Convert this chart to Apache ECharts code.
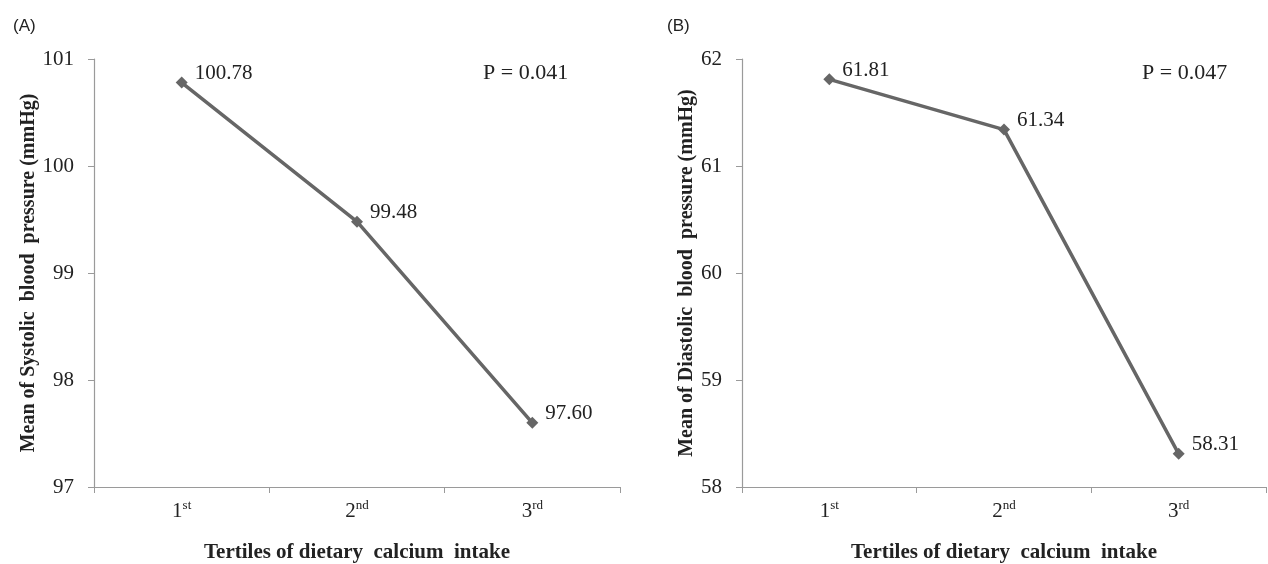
<!DOCTYPE html>
<html>
<head>
<meta charset="utf-8">
<script src="https://cdn.jsdelivr.net/npm/echarts@6/dist/echarts.min.js"></script>
<style>
  html, body { margin: 0; padding: 0; background: #fff; }
  #chart { width: 1268px; height: 564px; }
</style>
</head>
<body>
<div id="chart"></div>
<script>
// ---- data ----
const categories = ['1st', '2nd', '3rd'];
const systolic = [100.78, 99.48, 97.60];
const diastolic = [61.81, 61.34, 58.31];
const systolicLabels = ['100.78', '99.48', '97.60'];
const diastolicLabels = ['61.81', '61.34', '58.31'];
const panelTags = ['(A)', '(B)'];
const pValues = ['P = 0.041', 'P = 0.047'];
const yNames = ['Mean of Systolic  blood  pressure (mmHg)', 'Mean of Diastolic  blood  pressure (mmHg)'];
const xName = 'Tertiles of dietary  calcium  intake';
const yRangeA = [97, 101];
const yRangeB = [58, 62];

const serif = '"Liberation Serif", "Times New Roman", serif';
const sans = '"Liberation Sans", Arial, sans-serif';
const lineColor = '#666666';
const axisColor = '#9a9a9a';
const textColor = '#222222';

const chart = echarts.init(document.getElementById('chart'), null, { renderer: 'canvas' });

function catFormatter(v) {
  const m = v.match(/^(\d+)(\D+)$/);
  return m ? '{n|' + m[1] + '}{s|' + m[2] + '}' : v;
}

function xAxis(gridIndex) {
  return {
    type: 'category',
    gridIndex: gridIndex,
    data: categories,
    boundaryGap: true,
    axisLine: { lineStyle: { color: axisColor, width: 1.2 } },
    axisTick: { show: true, length: 6, inside: false, lineStyle: { color: axisColor } },
    axisLabel: {
      margin: 12,
      formatter: catFormatter,
      rich: {
        n: { fontFamily: serif, fontSize: 21, color: textColor, lineHeight: 24 },
        s: { fontFamily: serif, fontSize: 13, color: textColor, verticalAlign: 'top', lineHeight: 14 }
      }
    },
    name: xName,
    nameLocation: 'middle',
    nameGap: 55,
    nameTextStyle: { fontFamily: serif, fontSize: 21, fontWeight: 'bold', color: textColor }
  };
}

function yAxis(gridIndex, range, name) {
  return {
    type: 'value',
    gridIndex: gridIndex,
    min: range[0],
    max: range[1],
    interval: 1,
    splitLine: { show: false },
    axisLine: { show: true, lineStyle: { color: axisColor, width: 1.2 } },
    axisTick: { show: true, length: 6, inside: false, lineStyle: { color: axisColor } },
    axisLabel: { margin: 20, fontFamily: serif, fontSize: 21, color: textColor },
    name: name,
    nameLocation: 'middle',
    nameRotate: 90,
    nameGap: 41,
    nameTextStyle: { fontFamily: serif, fontSize: 20, fontWeight: 'bold', color: textColor }
  };
}

function series(idx, data, labels) {
  return {
    type: 'line',
    xAxisIndex: idx,
    yAxisIndex: idx,
    data: data,
    symbol: 'diamond',
    symbolSize: 12,
    lineStyle: { color: lineColor, width: 3.5 },
    itemStyle: { color: lineColor },
    label: {
      show: true,
      position: 'right',
      distance: 7,
      offset: [0, -9],
      fontFamily: serif,
      fontSize: 21,
      color: textColor,
      formatter: p => labels[p.dataIndex]
    },
    animation: false
  };
}

chart.setOption({
  backgroundColor: '#ffffff',
  animation: false,
  grid: [
    { left: 94, top: 59, width: 526, height: 428, containLabel: false, outerBoundsMode: 'none' },
    { left: 742, top: 59, width: 524, height: 428, containLabel: false, outerBoundsMode: 'none' }
  ],
  xAxis: [xAxis(0), xAxis(1)],
  yAxis: [yAxis(0, yRangeA, yNames[0]), yAxis(1, yRangeB, yNames[1])],
  series: [series(0, systolic, systolicLabels), series(1, diastolic, diastolicLabels)],
  graphic: [
    { type: 'text', left: 13, top: 18, style: { text: panelTags[0], font: '17px ' + sans, fill: textColor } },
    { type: 'text', left: 667, top: 18, style: { text: panelTags[1], font: '17px ' + sans, fill: textColor } },
    { type: 'text', left: 483, top: 62, style: { text: pValues[0], font: '22px ' + serif, fill: textColor } },
    { type: 'text', left: 1142, top: 62, style: { text: pValues[1], font: '22px ' + serif, fill: textColor } }
  ]
});
</script>
</body>
</html>
